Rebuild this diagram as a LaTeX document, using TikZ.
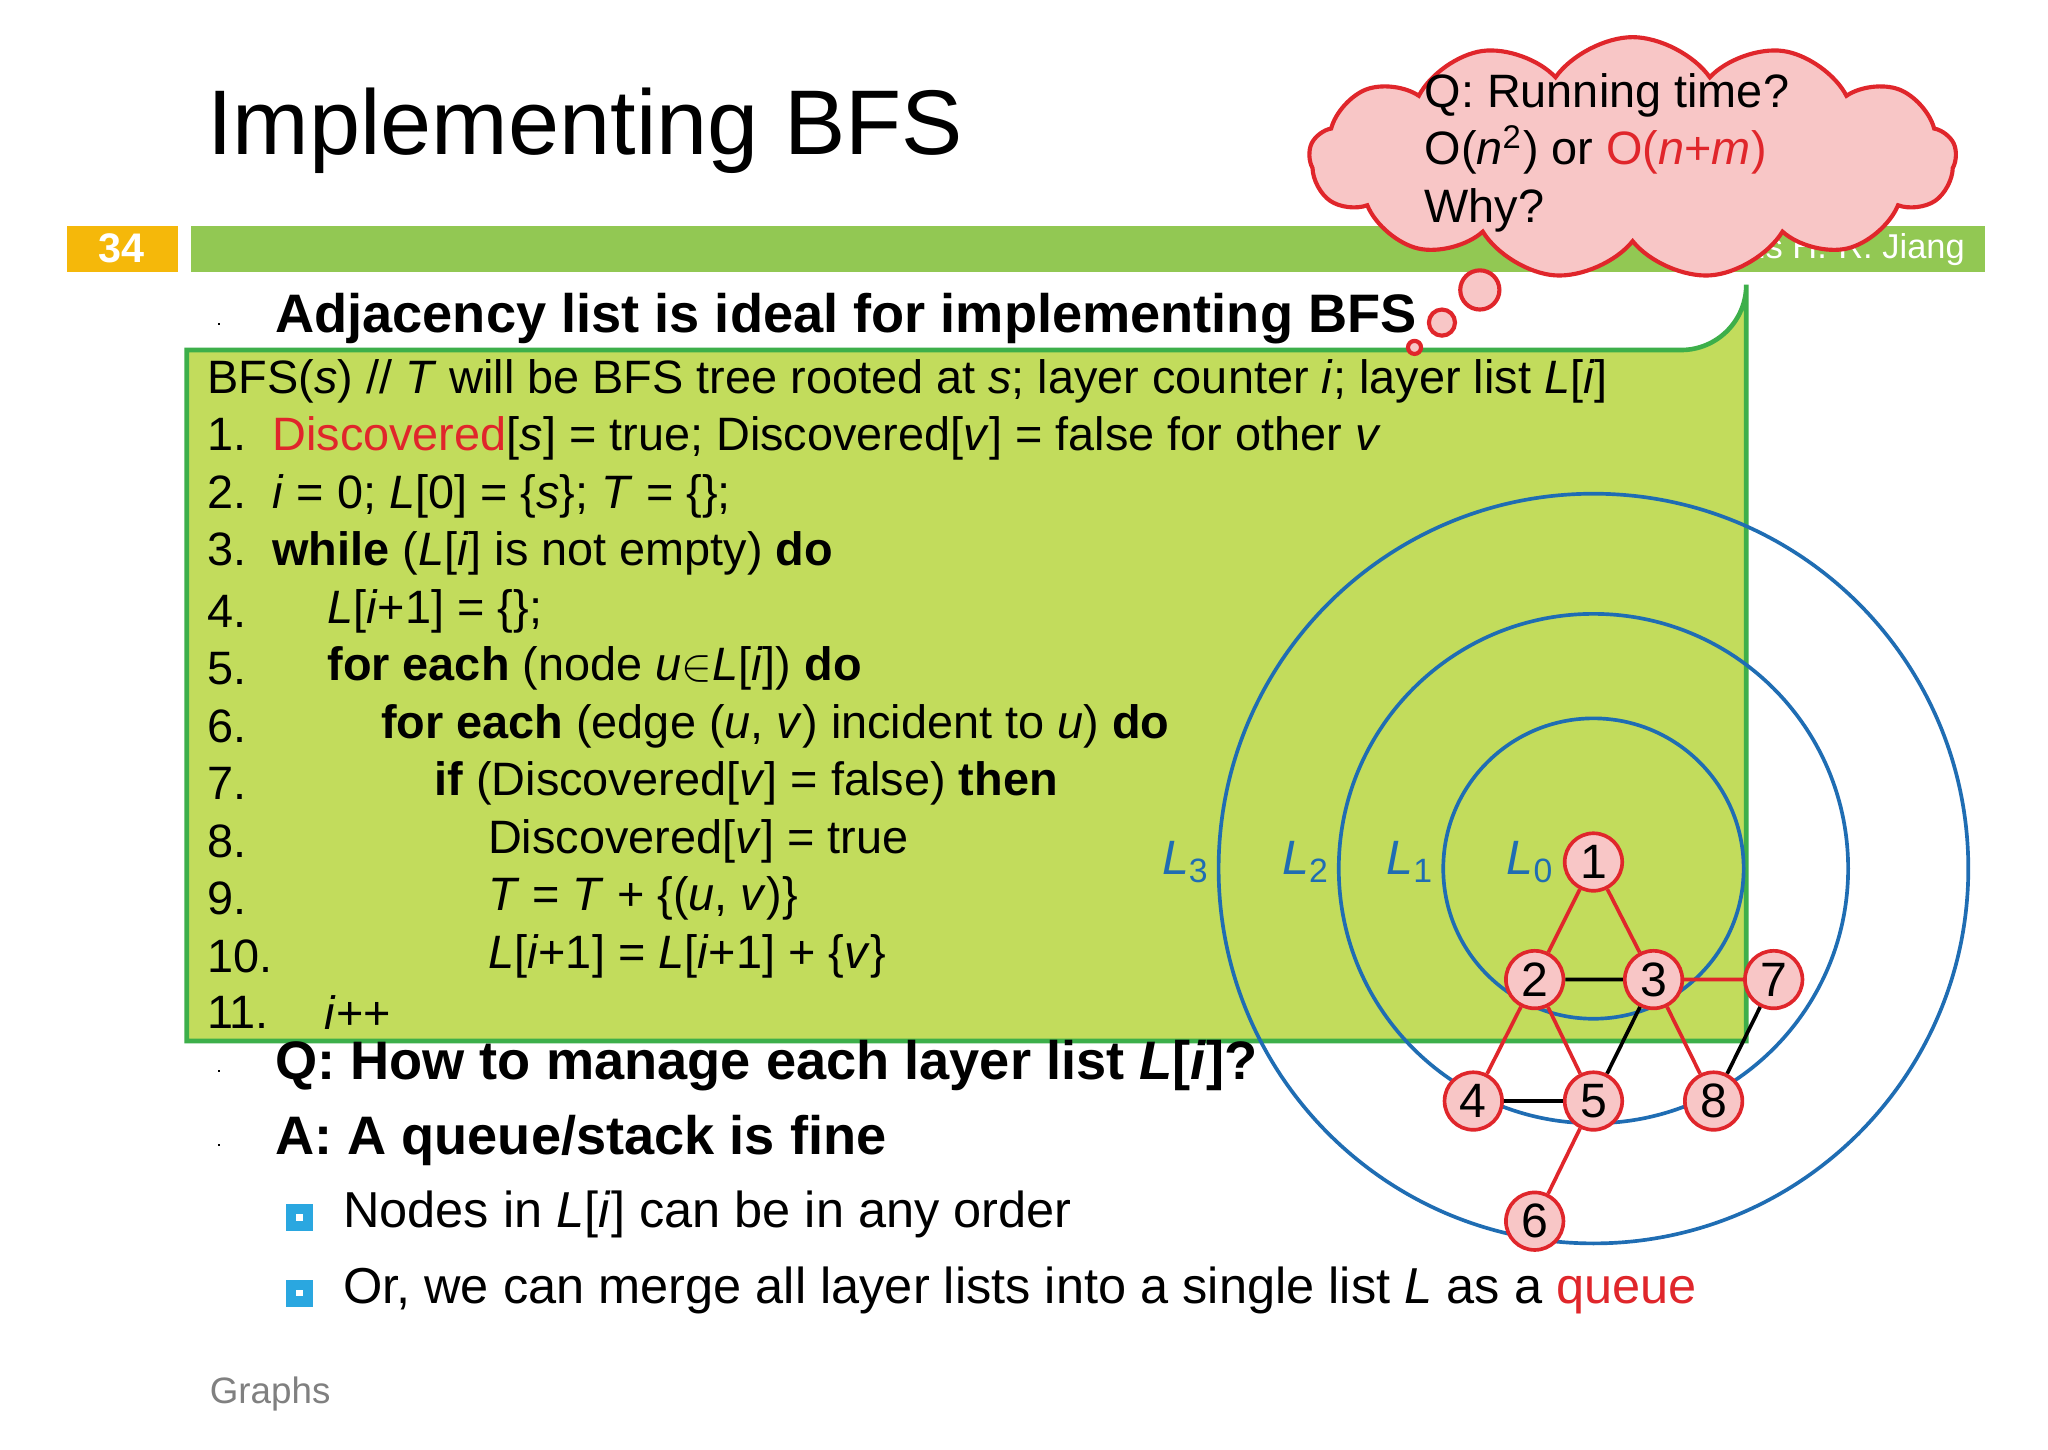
\documentclass[tikz,border=0pt]{standalone}
\usepackage{fontspec}
\setmainfont{Liberation Sans}
\usetikzlibrary{shapes.symbols}
\definecolor{bargreen}{HTML}{92C853}
\definecolor{boxfill}{HTML}{C2DC5C}
\definecolor{boxline}{HTML}{3DAF4A}
\definecolor{orng}{HTML}{F5B80A}
\definecolor{cblue}{HTML}{1F6DB3}
\definecolor{nred}{HTML}{E0262B}
\definecolor{npink}{HTML}{F8C6C6}
\definecolor{sqblue}{HTML}{2AA7E0}
\tikzset{
 code/.style={anchor=west,inner sep=0pt,font=\fontsize{10.2}{12}\selectfont},
 bul/.style={anchor=west,inner sep=0pt,font=\fontsize{11.8}{14}\selectfont\bfseries},
 sub/.style={anchor=west,inner sep=0pt,font=\fontsize{11}{13}\selectfont},
 gn/.style={circle,draw=nred,fill=npink,line width=0.8pt,minimum size=0.44cm,inner sep=0pt,font=\fontsize{10.5}{12}\selectfont},
 re/.style={draw=nred,line width=0.8pt},
 be/.style={draw=black,line width=0.8pt},
 lay/.style={draw=cblue,line width=0.8pt},
 ll/.style={text=cblue,font=\fontsize{10.5}{12}\selectfont\itshape,inner sep=0pt}
}
\newcommand{\sq}{\tikz\draw[line width=0.4pt] (0,0) rectangle (0.1,0.1);}
\begin{document}
\begin{tikzpicture}[x=0.01cm,y=-0.01cm]
\useasboundingbox (0,0) rectangle (1568,1110);
\fill[white] (0,0) rectangle (1568,1110);
\node[anchor=west,inner sep=0pt,font=\fontsize{20}{24}\selectfont] (title) at (158,100) {Implementing BFS};
\fill[orng] (51,173) rectangle (136,208);
\node[text=white,font=\fontsize{9}{10}\selectfont\bfseries] (num) at (93,190) {34};
\fill[bargreen] (146,173) rectangle (1520,208);
\node[anchor=east,text=white,font=\fontsize{7.5}{9}\selectfont,inner sep=0pt] (auth) at (1505,191) {C\textsc{hris} H.-R. J\textsc{iang}};
% bullets
\node[inner sep=0pt] (b1s) at (168,248) {\sq};
\node[bul] (b1) at (210,244) {Adjacency list is ideal for implementing BFS};
% green box
\draw[boxline,fill=boxfill,line width=1pt] (143,797) -- (143,268) -- (1287,268) arc[start angle=90,end angle=0,radius=50] -- (1337,797) -- cycle;
\node[code] (c0) at (158,292) {BFS(\textit{s}) // \textit{T} will be BFS tree rooted at \textit{s}; layer counter \textit{i}; layer list \textit{L}[\textit{i}]};
\node[code] (c1) at (158,336) {1.\ \ \textcolor{nred}{Discovered}[\textit{s}] = true; Discovered[\textit{v}] = false for other \textit{v}};
\node[code] (c2) at (158,380) {2.\ \ \textit{i} = 0; \textit{L}[0] = \{\textit{s}\}; \textit{T} = \{\};};
\node[code] (c3) at (158,424) {3.\ \ \textbf{while} (\textit{L}[\textit{i}] is not empty) \textbf{do}};
\node[code] (c4) at (158,468) {4.};
\node[code] at (250,468) {\textit{L}[\textit{i}+1] = \{\};};
\node[code] (c5) at (158,512) {5.};
\node[code] at (250,512) {\textbf{for each} (node \textit{u}$\in$\textit{L}[\textit{i}]) \textbf{do}};
\node[code] (c6) at (158,556) {6.};
\node[code] at (291,556) {\textbf{for each} (edge (\textit{u}, \textit{v}) incident to \textit{u}) \textbf{do}};
\node[code] (c7) at (158,600) {7.};
\node[code] at (332,600) {\textbf{if} (Discovered[\textit{v}] = false) \textbf{then}};
\node[code] (c8) at (158,644) {8.};
\node[code] at (373,644) {Discovered[\textit{v}] = true};
\node[code] (c9) at (158,688) {9.};
\node[code] at (373,688) {\textit{T} = \textit{T} + \{(\textit{u}, \textit{v})\}};
\node[code] (c10) at (158,732) {10.};
\node[code] at (373,732) {\textit{L}[\textit{i}+1] = \textit{L}[\textit{i}+1] + \{\textit{v}\}};
\node[code] (c11) at (158,775) {11.};
\node[code] at (248,775) {\textit{i}++};
% layers
\coordinate (ctr) at (1220,665);
\draw[lay] (ctr) circle[radius=115];
\draw[lay] (ctr) circle[radius=195];
\draw[lay] (ctr) circle[radius=287];
\node[ll] (l3) at (908,660) {L\textsubscript{\upshape 3}};
\node[ll] (l2) at (1000,660) {L\textsubscript{\upshape 2}};
\node[ll] (l1) at (1080,660) {L\textsubscript{\upshape 1}};
\node[ll] (l0) at (1172,660) {L\textsubscript{\upshape 0}};
% graph
\node[gn] (n1) at (1220,660) {1};
\node[gn] (n2) at (1175,750) {2};
\node[gn] (n3) at (1266,750) {3};
\node[gn] (n7) at (1358,750) {7};
\node[gn] (n4) at (1128,843) {4};
\node[gn] (n5) at (1220,843) {5};
\node[gn] (n8) at (1312,843) {8};
\node[gn] (n6) at (1175,935) {6};
\draw[re] (n1)--(n2) (n1)--(n3) (n2)--(n4) (n2)--(n5) (n3)--(n7) (n3)--(n8) (n5)--(n6);
\draw[be] (n2)--(n3) (n4)--(n5) (n3)--(n5) (n7)--(n8);
% lower bullets
\node[inner sep=0pt] (b2s) at (168,820) {\sq};
\node[bul] (b2) at (210,816) {Q: How to manage each layer list \textit{L}[\textit{i}]?};
\node[inner sep=0pt] (b3s) at (168,877) {\sq};
\node[bul] (b3) at (210,873) {A: A queue/stack is fine};
\node[draw=sqblue,line width=2.2pt,minimum size=0.13cm,inner sep=0pt] (s1) at (229,932) {};
\node[sub] (t1) at (262,930) {Nodes in \textit{L}[\textit{i}] can be in any order};
\node[draw=sqblue,line width=2.2pt,minimum size=0.13cm,inner sep=0pt] (s2) at (229,990) {};
\node[sub] (t2) at (262,988) {Or, we can merge all layer lists into a single list \textit{L} as a \textcolor{nred}{queue}};
\node[anchor=west,inner sep=0pt,text=gray,font=\fontsize{8}{10}\selectfont] (g) at (160,1067) {Graphs};
% cloud
\node[cloud,cloud puffs=13,cloud puff arc=110,aspect=2.6,draw=nred,fill=npink,line width=0.9pt,minimum width=4.95cm,minimum height=1.85cm,inner sep=0pt] (cl) at (1250,121) {};
\node[anchor=west,inner sep=0pt,align=left,font=\fontsize{10.2}{12.6}\selectfont] (ct) at (1090,117) {Q: Running time?\\O(\textit{n}\textsuperscript{2}) or \textcolor{nred}{O(\textit{n}+\textit{m})}\\Why?};
\draw[nred,fill=npink,line width=0.9pt] (1133,222) circle[radius=15];
\draw[nred,fill=npink,line width=0.9pt] (1104,247) circle[radius=10];
\draw[nred,fill=npink,line width=0.9pt] (1083,266) circle[radius=5];
\end{tikzpicture}
\end{document}
